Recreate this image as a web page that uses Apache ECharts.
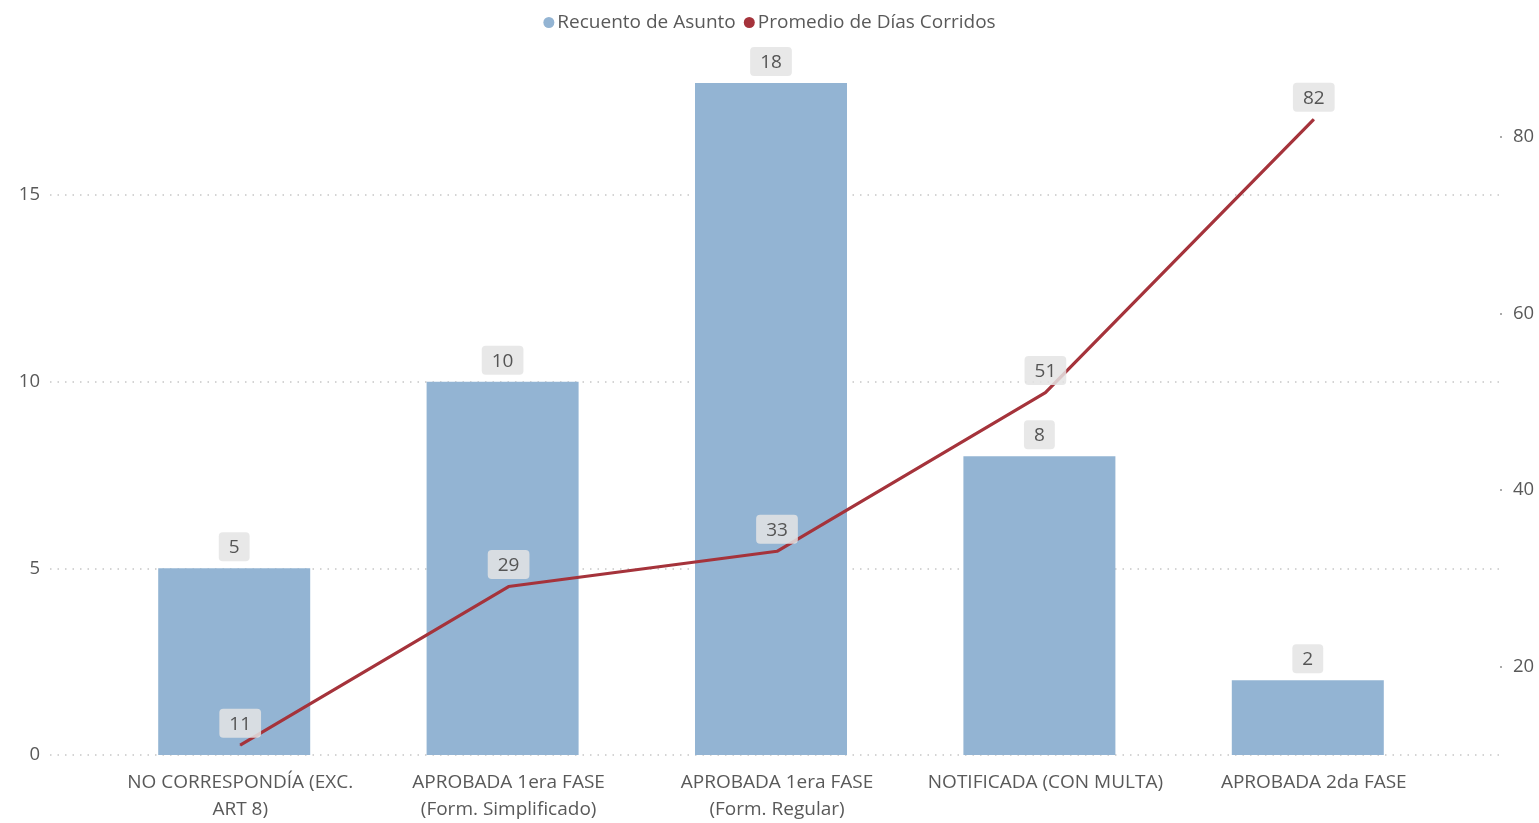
<!DOCTYPE html>
<html>
<head>
<meta charset="utf-8">
<script src="https://cdn.jsdelivr.net/npm/echarts@6/dist/echarts.min.js"></script>
<style>
html,body{margin:0;padding:0;background:#fff;}
#chart{width:1539px;height:823px;}
</style>
</head>
<body>
<div id="chart"></div>
<script>
const categories = [
  "NO CORRESPONDÍA (EXC.\nART 8)",
  "APROBADA 1era FASE\n(Form. Simplificado)",
  "APROBADA 1era FASE\n(Form. Regular)",
  "NOTIFICADA (CON MULTA)",
  "APROBADA 2da FASE"
];
const recuento = [5, 10, 18, 8, 2];
const promedio = [11, 29, 33, 51, 82];
const leftTicks = [0, 5, 10, 15];
const rightTicks = [20, 40, 60, 80];

const FONT = '"Open Sans", "Noto Sans", sans-serif';
const TXT = '#595959';
const TOP = 40, BOTTOM = 68;
const LMIN = 0, LMAX = 19.15, RMIN = 10, RMAX = 91;

const labelBox = {
  show: true,
  fontFamily: FONT,
  fontSize: 19,
  color: '#555555',
  backgroundColor: 'rgba(228,228,228,0.85)',
  borderRadius: 4,
  padding: [6, 10, 4, 10],
  distance: 7,
  position: 'top'
};

const chart = echarts.init(document.getElementById('chart'), null, {renderer: 'canvas'});
chart.setOption({
  animation: false,
  textStyle: {fontFamily: FONT},
  legend: {
    top: 8,
    left: 'center',
    itemWidth: 11,
    itemHeight: 11,
    itemGap: 8,
    icon: 'circle',
    textStyle: {fontFamily: FONT, fontSize: 19, color: TXT, padding: [0, 0, 0, -2]},
    data: ['Recuento de Asunto', 'Promedio de Días Corridos']
  },
  grid: [
    {left: 100, right: 97, top: TOP, bottom: BOTTOM},
    {left: 106, right: 91, top: TOP, bottom: BOTTOM},
    {left: 50, right: 39, top: TOP, bottom: BOTTOM}
  ],
  xAxis: [
    {type: 'category', gridIndex: 0, data: categories, show: false},
    {type: 'category', gridIndex: 1, data: categories,
      axisLine: {show: false}, axisTick: {show: false},
      axisLabel: {fontFamily: FONT, fontSize: 19, color: TXT, lineHeight: 27, margin: 15, interval: 0}},
    {type: 'value', gridIndex: 2, show: false, min: 0, max: 1}
  ],
  yAxis: [
    {type: 'value', gridIndex: 0, min: LMIN, max: LMAX, show: false},
    {type: 'value', gridIndex: 1, min: RMIN, max: RMAX, show: false},
    {type: 'value', gridIndex: 2, min: LMIN, max: LMAX, interval: 5, position: 'left',
      axisLine: {show: false}, axisTick: {show: false},
      axisLabel: {fontFamily: FONT, fontSize: 18.5, color: TXT, margin: 10, customValues: leftTicks},
      splitLine: {show: true, showMaxLine: false, lineStyle: {color: '#c6c6c6', width: 1.5, type: [1.5, 6]}}},
    {type: 'value', gridIndex: 2, min: RMIN, max: RMAX, position: 'right',
      axisLine: {show: false},
      axisTick: {show: true, length: 2, customValues: rightTicks, lineStyle: {color: '#aaaaaa', width: 2}},
      axisLabel: {fontFamily: FONT, fontSize: 18.5, color: TXT, margin: 13, customValues: rightTicks},
      splitLine: {show: false}}
  ],
  series: [
    {
      name: 'Recuento de Asunto',
      type: 'bar',
      xAxisIndex: 0, yAxisIndex: 0,
      data: recuento,
      barWidth: 152,
      itemStyle: {color: '#93b4d3'},
      label: labelBox,
      z: 2
    },
    {
      name: 'Promedio de Días Corridos',
      type: 'line',
      xAxisIndex: 1, yAxisIndex: 1,
      data: promedio,
      symbol: 'circle',
      symbolSize: 1,
      itemStyle: {color: '#a5333b'},
      lineStyle: {color: '#a5333b', width: 3.2},
      label: labelBox,
      z: 3
    }
  ]
});
</script>
</body>
</html>
